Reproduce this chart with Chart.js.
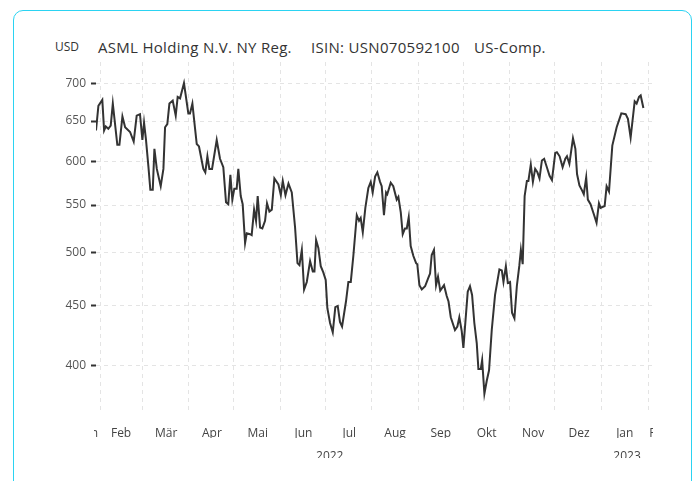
<!DOCTYPE html>
<html>
<head>
<meta charset="utf-8">
<script src="https://cdn.jsdelivr.net/npm/chart.js@4.4.0/dist/chart.umd.min.js"></script>
<style>
  body { margin: 0; background: #fff; font-family: "Open Sans", sans-serif; }
  #wrap { position: relative; width: 697px; height: 481px; overflow: hidden; }
  #card { position: absolute; left: 13px; top: 10px; width: 679px; height: 520px;
          border: 1.5px solid #2bd3f2; border-radius: 10px; box-sizing: border-box; }
  .hd { position: absolute; top: 36px; line-height: 22px; color: #333; font-size: 15px;
        letter-spacing: 0.3px; white-space: nowrap; }
  canvas { position: absolute; left: 0; top: 0; }
</style>
</head>
<body>
<div id="wrap">
  <div id="card"></div>
  <span class="hd" style="left:55px;font-size:12px;letter-spacing:0;">USD</span>
  <span class="hd" style="left:98px;">ASML Holding N.V. NY Reg.</span>
  <span class="hd" style="left:311px;">ISIN: USN070592100</span>
  <span class="hd" style="left:474px;">US-Comp.</span>
  <canvas id="canvas1" width="697" height="481"></canvas>
</div>
<script>
// days counted from 1 Jan 2022
var days = [28.3, 29.9, 32.5, 33.7, 34.8, 36.5, 38.1, 39.5, 42.5, 43.9, 45.9, 47.7, 51.0, 53.4, 55.4, 57.6,
  59.2, 60.3, 61.6, 63.2, 64.5, 66.1, 67.2, 68.8, 71.4, 73.2, 74.3, 75.8, 77.2, 79.4, 81.4, 82.7,
  84.3, 86.9, 89.8, 90.9, 92.5, 94.3, 95.4, 96.9, 99.8, 101.1, 102.5, 103.8, 105.6, 108.7, 110.9, 113.1,
  114.9, 116.4, 117.8, 119.1, 120.4, 122.0, 123.1, 124.7, 126.0, 127.6, 128.7, 130.9, 132.0, 133.6,
  134.9, 136.0, 137.6, 139.1, 140.9, 142.2, 143.8, 145.4, 147.1, 149.8, 151.4, 152.7, 154.5, 156.5,
  158.7, 160.9, 162.5, 163.8, 165.4, 166.9, 168.7, 170.9, 172.7, 173.8, 174.9, 176.4, 178.0, 179.7,
  181.3, 182.4, 184.2, 186.0, 187.7, 189.3, 190.8, 192.2, 194.8, 196.4, 198.0, 199.7, 202.0, 203.5,
  204.6, 206.0, 207.7, 209.7, 211.3, 212.6, 214.2, 215.7, 217.5, 218.6, 220.1, 221.5, 222.3, 224.6,
  226.3, 228.6, 229.7, 231.3, 232.6, 234.1, 235.3, 236.6, 237.9, 239.7, 241.5, 242.3, 243.7, 245.3,
  247.5, 249.7, 250.8, 251.9, 253.4, 254.8, 256.1, 257.6, 260.1, 261.9, 263.1, 264.6, 267.4, 269.0,
  270.3, 271.9, 273.0, 275.9, 277.4, 278.8, 280.3, 281.9, 283.0, 284.6, 285.5, 287.0, 288.6, 290.1,
  291.9, 294.1, 297.0, 298.6, 299.7, 301.3, 302.6, 304.1, 305.4, 307.0, 308.6, 310.3, 311.3, 312.5,
  313.8, 315.3, 316.3, 317.9, 319.3, 320.8, 322.3, 323.7, 325.3, 326.8, 328.6, 330.4, 332.0, 334.2,
  335.3, 337.1, 339.1, 340.9, 342.0, 343.6, 346.0, 347.6, 348.7, 350.3, 352.1, 353.2, 354.8, 355.9,
  357.7, 359.9, 361.7, 363.3, 364.4, 367.1, 368.4, 370.0, 372.2, 375.1, 378.2, 381.1, 382.6, 384.4,
  387.1, 388.4, 390.0, 391.1, 392.9];
var prices = [638, 670, 678, 638, 643, 640, 644, 673, 620, 620, 656, 642, 636, 624, 657, 659,
  626, 648, 626, 594, 567, 567, 615, 591, 571, 591, 642, 646, 673, 677, 657, 682,
  680, 701, 660, 660, 673, 640, 621, 618, 591, 587, 606, 591, 591, 626, 603, 593,
  553, 551, 584, 556, 568, 568, 591, 560, 551, 510, 520, 519, 518, 545,
  533, 560, 526, 525, 533, 552, 543, 545, 580, 573, 561, 577, 561, 574,
  564, 526, 490, 488, 503, 465, 472, 492, 482, 482, 513, 505, 487, 481,
  474, 448, 435, 427, 449, 450, 436, 432, 454, 472, 472, 497, 539, 533,
  536, 521, 547, 569, 576, 564, 582, 587, 576, 571, 539, 564, 562, 575,
  571, 556, 559, 542, 519, 525, 525, 537, 507, 497, 490, 489, 469, 465,
  468, 476, 480, 498, 503, 469, 477, 464, 469, 459, 454, 440, 429, 432,
  440, 428, 414, 463, 468, 460, 435, 418, 397, 397, 404, 378, 388, 396,
  429, 460, 484, 483, 472, 487, 471, 472, 444, 439, 468, 488, 503, 489,
  560, 577, 577, 596, 576, 591, 587, 580, 601, 603, 593, 583, 578, 610,
  611, 606, 593, 603, 606, 597, 628, 615, 585, 572, 566, 562, 581, 556,
  551, 540, 531, 552, 547, 549, 571, 565, 619, 642, 660, 659, 653, 629,
  676, 673, 682, 684, 667];

var monthStarts = [31, 59, 90, 120, 151, 181, 212, 243, 273, 304, 334, 365, 396];
var monthNames = ['Jan', 'Feb', 'Mär', 'Apr', 'Mai', 'Jun', 'Jul', 'Aug', 'Sep', 'Okt', 'Nov', 'Dez', 'Jan', 'Feb'];
var monthLabelDays = [24, 45, 75, 105.5, 136, 166.5, 197, 227.5, 258, 288.5, 319.5, 350, 380.5, 403.5];
var yearNames = ['2022', '2023'];
var yearDays = [184, 382];
var yTicks = [400, 450, 500, 550, 600, 650, 700];

var xMin = 28.3, xMax = 399.3;
var fontFam = '"Open Sans", sans-serif';

// month labels are cut at the plot edges, like the original
var clipLabels = {
  id: 'clipLabels',
  beforeDraw: function(chart) {
    var s = chart.scales.xm;
    if (s.__clipped) return;
    var orig = s.drawLabels;
    s.drawLabels = function(area) {
      var ctx = chart.ctx, a = chart.chartArea;
      ctx.save();
      ctx.beginPath();
      ctx.rect(a.left - 2, 0, a.right - a.left + 2, chart.height);
      ctx.clip();
      orig.call(this, area);
      ctx.restore();
    };
    s.__clipped = true;
  }
};

var pts = days.map(function(d, i) { return {x: d, y: prices[i]}; });

new Chart(document.getElementById('canvas1'), {
  type: 'line',
  data: {
    datasets: [{
      data: pts,
      borderColor: '#333',
      borderWidth: 2,
      pointRadius: 0,
      tension: 0,
      xAxisID: 'x',
      yAxisID: 'y'
    }]
  },
  options: {
    responsive: false,
    animation: false,
    layout: { padding: { top: 62, right: 44, bottom: 23, left: 0 } },
    plugins: { legend: { display: false }, tooltip: { enabled: false } },
    scales: {
      x: {
        type: 'linear', min: xMin, max: xMax, position: 'bottom', weight: 0,
        afterBuildTicks: function(s) { s.ticks = monthStarts.map(function(v) { return {value: v}; }); },
        afterFit: function(s) { s.height = 0; s.paddingLeft = 0; s.paddingRight = 0; },
        ticks: { display: false },
        grid: { color: '#e4e4e4', drawTicks: false },
        border: { display: false, dash: [4, 4] }
      },
      xm: {
        type: 'linear', min: xMin, max: xMax, position: 'bottom', weight: 1,
        afterBuildTicks: function(s) { s.ticks = monthLabelDays.map(function(v) { return {value: v}; }); },
        afterFit: function(s) { s.height = 24; s.paddingLeft = 0; s.paddingRight = 0; },
        ticks: {
          autoSkip: false, maxRotation: 0, padding: 12, color: '#444',
          font: { family: fontFam, size: 12 },
          callback: function(v, i) { return monthNames[i]; }
        },
        grid: { display: false, drawTicks: false },
        border: { display: false }
      },
      xy: {
        type: 'linear', min: xMin, max: xMax, position: 'bottom', weight: 2,
        afterBuildTicks: function(s) { s.ticks = yearDays.map(function(v) { return {value: v}; }); },
        afterFit: function(s) { s.height = 20; s.paddingLeft = 0; s.paddingRight = 0; },
        ticks: {
          autoSkip: false, maxRotation: 0, padding: 11, color: '#444',
          font: { family: fontFam, size: 12 },
          callback: function(v, i) { return yearNames[i]; }
        },
        grid: { display: false, drawTicks: false },
        border: { display: false }
      },
      y: {
        type: 'logarithmic', min: 363, max: 731, position: 'left',
        afterBuildTicks: function(s) { s.ticks = yTicks.map(function(v) { return {value: v}; }); },
        afterFit: function(s) { s.width = 96; s.paddingTop = 0; s.paddingBottom = 0; },
        ticks: {
          padding: 5, color: '#555',
          font: { family: fontFam, size: 12 },
          callback: function(v) { return String(v); }
        },
        grid: { color: '#e4e4e4', tickColor: '#333', tickLength: 5, tickWidth: 2, tickBorderDash: [] },
        border: { display: false, dash: [4, 4] }
      }
    }
  },
  plugins: [clipLabels]
});
</script>
</body>
</html>
